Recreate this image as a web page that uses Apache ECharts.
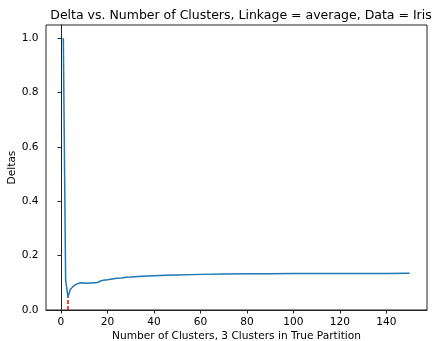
<!DOCTYPE html>
<html><head><meta charset="utf-8">
<script src="https://cdn.jsdelivr.net/npm/echarts@6/dist/echarts.min.js"></script>
<style>html,body{margin:0;padding:0;background:#fff}#c{width:433px;height:341px}</style>
</head><body><div id="c"></div>
<script>
var clusters = [1,2,3,4,5,6,7,8,9,10,11,12,13,14,15,16,17,18,19,20,22,24,26,28,30,35,40,45,50,60,70,80,90,100,110,120,130,140,150];
var deltas =   [1.0,0.11,0.048,0.075,0.085,0.092,0.096,0.099,0.100,0.099,0.098,0.099,0.099,0.100,0.100,0.102,0.107,0.109,0.110,0.111,0.114,0.117,0.118,0.120,0.121,0.124,0.126,0.128,0.129,0.131,0.132,0.133,0.1335,0.134,0.134,0.134,0.1345,0.1345,0.135];
var trueK = 3;
var trueKDelta = 0.048;
var xTicks = [0,20,40,60,80,100,120,140];
var yTicks = [0,0.2,0.4,0.6,0.8,1.0];

var font = 'DejaVu Sans';
var chart = echarts.init(document.getElementById('c'), null, {renderer:'canvas'});
chart.setOption({
  animation:false,
  title:{text:'Delta vs. Number of Clusters, Linkage = average, Data = Iris',left:236,top:4,textAlign:'center',
    textStyle:{fontFamily:font,fontSize:12.5,fontWeight:'normal',color:'#000'}},
  grid:{left:46,right:6,top:25,bottom:31,show:true,borderColor:'#222',borderWidth:1,outerBoundsMode:'none',containLabel:false},
  xAxis:{type:'value',min:-6.45,max:157.45,
    name:'Number of Clusters, 3 Clusters in True Partition',nameLocation:'middle',nameGap:21,nameMoveOverlap:false,
    nameTextStyle:{fontFamily:font,fontSize:10.6,color:'#000'},
    axisLine:{show:true,onZero:false,lineStyle:{color:'#222'}},
    axisTick:{show:true,length:3.5,lineStyle:{color:'#222'},customValues:xTicks},
    axisLabel:{fontFamily:font,fontSize:10.6,color:'#000',margin:7,customValues:xTicks},
    splitLine:{show:false}},
  yAxis:{type:'value',min:0,max:1.048,
    name:'Deltas',nameLocation:'middle',nameGap:28,nameMoveOverlap:false,
    nameTextStyle:{fontFamily:font,fontSize:10.6,color:'#000'},
    axisLine:{show:true,lineStyle:{color:'#222'}},
    axisTick:{show:true,length:3.5,lineStyle:{color:'#222'},customValues:yTicks},
    axisLabel:{fontFamily:font,fontSize:10.6,color:'#000',margin:7.5,customValues:yTicks,formatter:function(v){return v.toFixed(1);}},
    splitLine:{show:false}},
  series:[
    {type:'line',data:clusters.map(function(x,i){return [x,deltas[i]];}),showSymbol:false,
      lineStyle:{color:'#1f77b4',width:1.5},z:2},
    {type:'line',data:[[trueK,0],[trueK,trueKDelta]],showSymbol:false,
      lineStyle:{color:'#ff0000',width:1.5,type:[4,2]},z:3}
  ]
});
</script></body></html>
